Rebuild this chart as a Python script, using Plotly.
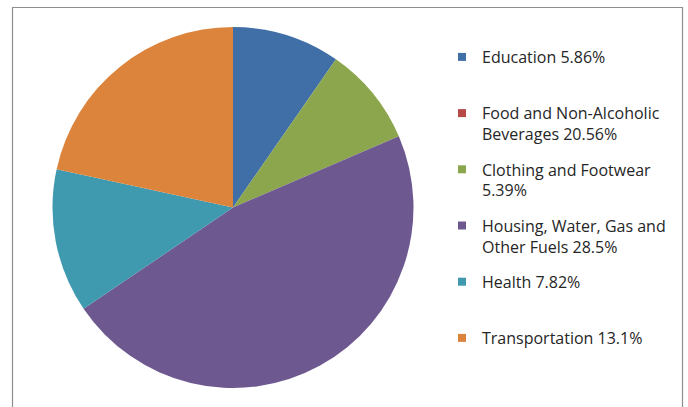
import plotly.graph_objects as go

categories = ["Education", "Food and Non-Alcoholic Beverages", "Clothing and Footwear",
              "Housing, Water, Gas and Other Fuels", "Health", "Transportation"]
legend_pct = [5.86, 20.56, 5.39, 28.5, 7.82, 13.1]
pie_values = [5.86, 0, 5.39, 28.5, 7.82, 13.1]
legend_labels = ["Education 5.86%<br> ",
                 "Food and Non-Alcoholic<br>Beverages 20.56%",
                 "Clothing and Footwear<br>5.39%",
                 "Housing, Water, Gas and<br>Other Fuels 28.5%",
                 "Health 7.82%<br> ",
                 "Transportation 13.1%<br> "]
colors = ["#3F6FA6", "#B54A47", "#8BA64D", "#6E5890", "#3F99AF", "#DC843C"]

W, H = 688, 407
fig = go.Figure()
fig.add_trace(go.Pie(
    labels=categories, values=pie_values, sort=False, direction="clockwise",
    rotation=0, textinfo="none", showlegend=False,
    marker=dict(colors=colors, line=dict(width=0)),
    domain=dict(x=[52.5 / W, 413.5 / W], y=[(H - 388) / H, (H - 27) / H]),
))
for i, (lab, c) in enumerate(zip(legend_labels, colors)):
    fig.add_trace(go.Scatter(
        x=[None], y=[None], mode="markers", name=lab, legendgroup=f"g{i}",
        marker=dict(symbol="square", size=8, color=c), hoverinfo="skip",
    ))

fig.update_layout(
    width=W, height=H, margin=dict(l=0, r=0, t=0, b=0),
    paper_bgcolor="white", plot_bgcolor="white",
    xaxis=dict(visible=False), yaxis=dict(visible=False),
    legend=dict(x=442 / W, xanchor="left", y=1 - 40 / H, yanchor="top",
                valign="top", tracegroupgap=11.6,
                font=dict(family="Open Sans", size=16, color="#262626"),
                bgcolor="rgba(0,0,0,0)"),
    shapes=[dict(type="rect", xref="paper", yref="paper",
                 x0=12.5 / W, x1=682.5 / W, y0=-0.05, y1=1 - 7.5 / H,
                 line=dict(color="#8E8E8E", width=1.2), fillcolor="rgba(0,0,0,0)",
                 layer="below")],
)
fig.write_html("out.html")
